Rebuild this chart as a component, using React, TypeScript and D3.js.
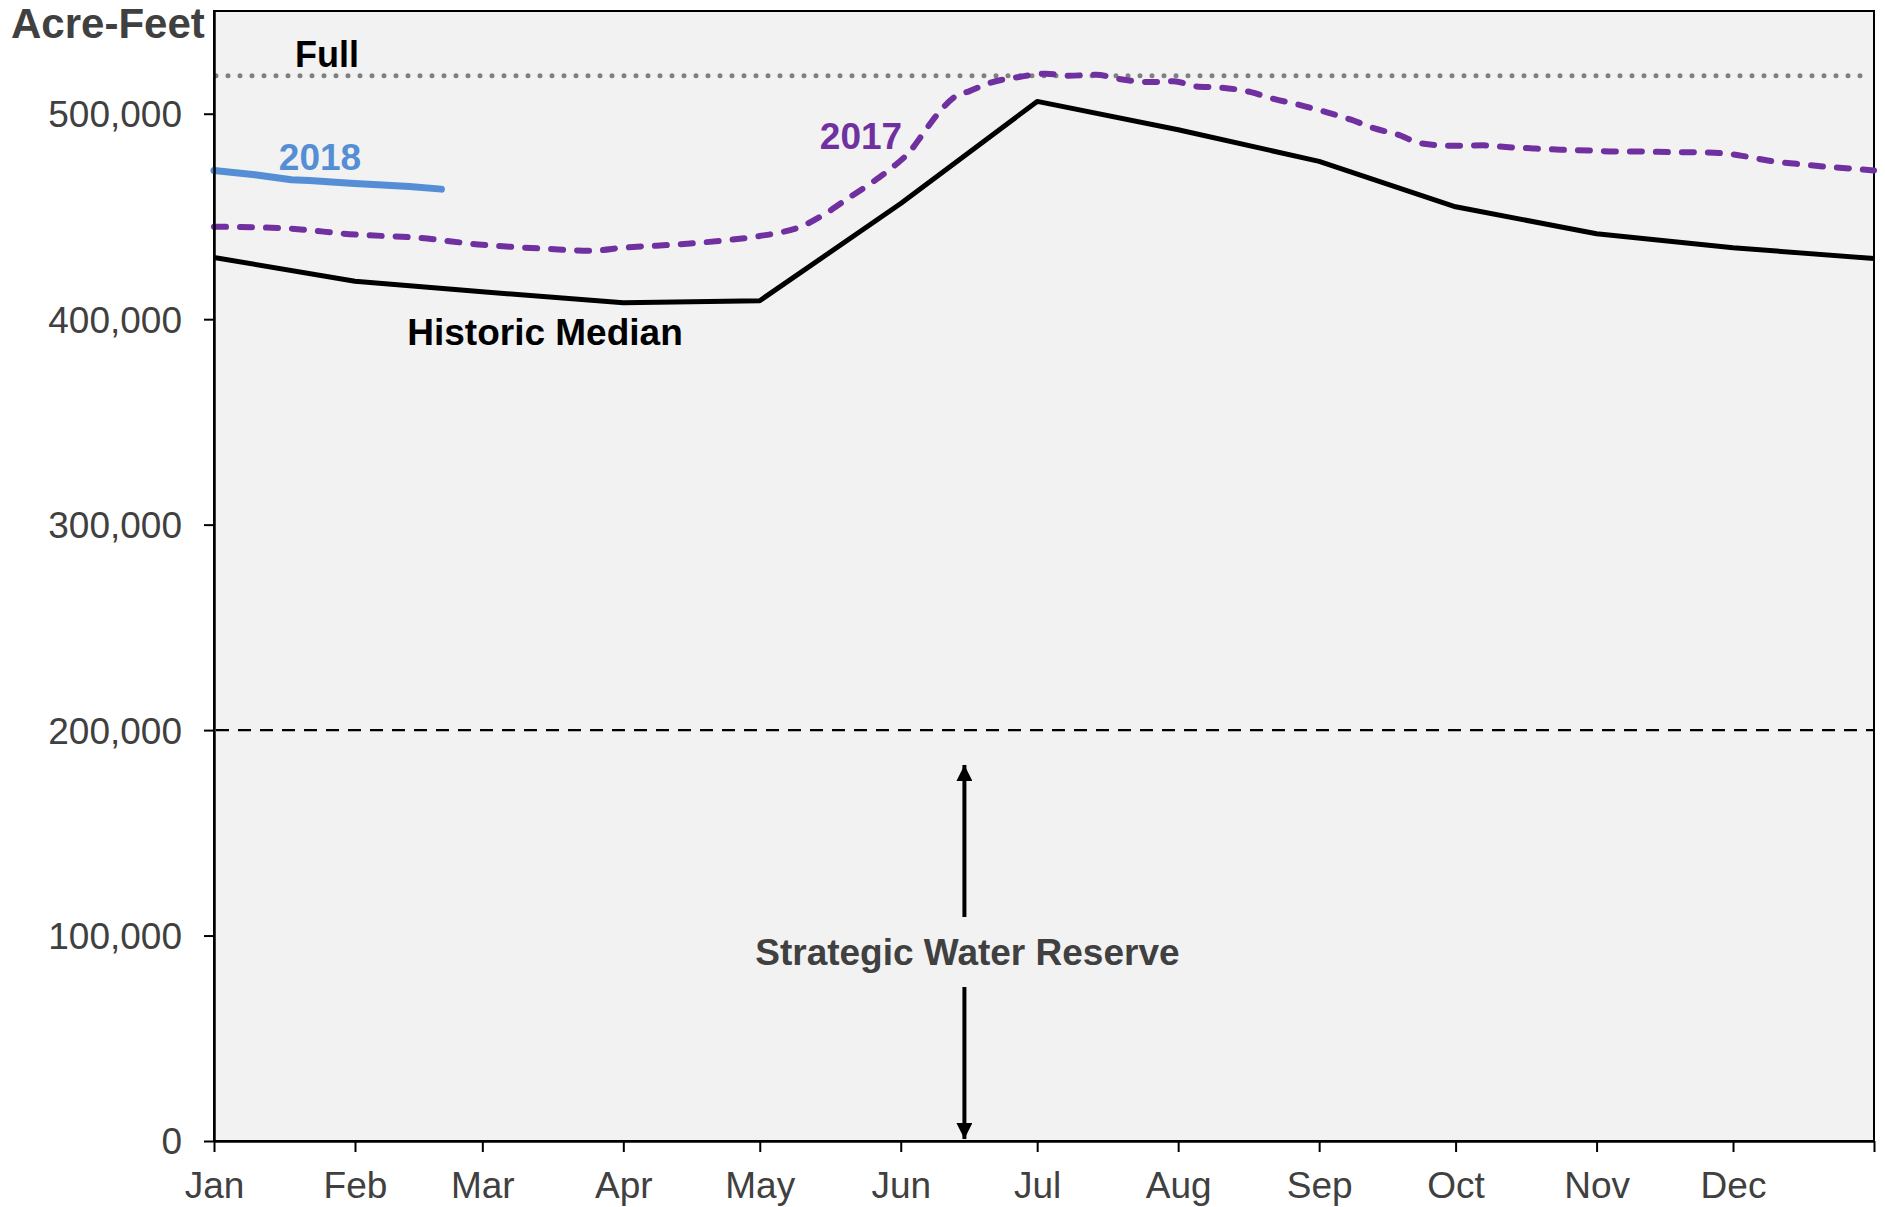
import React, { useEffect, useRef } from 'react';
import * as d3 from 'd3';

// month labels on the x axis
const monthLabels = ['Jan', 'Feb', 'Mar', 'Apr', 'May', 'Jun', 'Jul', 'Aug', 'Sep', 'Oct', 'Nov', 'Dec'];
const yTicks = [0, 100000, 200000, 300000, 400000, 500000];

const fullLevel = 518500;
const reserveLevel = 200000;

// historic median, first of each month
const medianDates = [
  '2017-01-01', '2017-02-01', '2017-03-01', '2017-04-01', '2017-05-01', '2017-06-01', '2017-07-01',
  '2017-08-01', '2017-09-01', '2017-10-01', '2017-11-01', '2017-12-01', '2018-01-01',
];
const medianValues = [
  430000, 418500, 413300, 408000, 409000, 456300, 506000, 492200, 476800, 454700, 441600, 434800, 429500,
];

// 2017 storage
const dates2017 = [
  '2017-01-01', '2017-01-16', '2017-02-01', '2017-02-15', '2017-03-01', '2017-03-15', '2017-03-25',
  '2017-04-01', '2017-04-15', '2017-05-01', '2017-05-05', '2017-05-10', '2017-05-15', '2017-05-21',
  '2017-05-26', '2017-05-30', '2017-06-03', '2017-06-06', '2017-06-09', '2017-06-13', '2017-06-16',
  '2017-06-21', '2017-06-27', '2017-07-03', '2017-07-08', '2017-07-14', '2017-07-19', '2017-07-26',
  '2017-07-31', '2017-08-05', '2017-08-10', '2017-08-17', '2017-08-22', '2017-08-27', '2017-09-02',
  '2017-09-08', '2017-09-13', '2017-09-19', '2017-09-23', '2017-09-30', '2017-10-07', '2017-10-12',
  '2017-10-18', '2017-10-24', '2017-10-31', '2017-11-05', '2017-11-11', '2017-11-17', '2017-11-23',
  '2017-11-28', '2017-12-03', '2017-12-09', '2017-12-15', '2017-12-21', '2017-12-27', '2018-01-01',
];
const values2017 = [
  445000, 444300, 441200, 439600, 436200, 434300, 433300, 434800, 436700, 440500, 442000, 445000,
  450800, 459700, 467000, 473600, 481600, 490600, 499500, 508400, 510900, 515300, 517900, 519500,
  518500, 519000, 516900, 515400, 515800, 513300, 512800, 510500, 507200, 504700, 501100, 497100,
  493000, 489300, 485700, 484400, 484600, 483800, 483100, 482500, 482100, 481600, 481600, 481300,
  481200, 480900, 479500, 477100, 475600, 474300, 473300, 472400,
];

// 2018 storage so far
const dates2018 = ['2018-01-01', '2018-01-10', '2018-01-18', '2018-01-22', '2018-01-31', '2018-02-06', '2018-02-13', '2018-02-20'];
const values2018 = [472400, 470300, 467900, 467500, 466200, 465400, 464600, 463300];

const W = 1885;
const H = 1207;
const left = 214;
const right = 1874;
const top = 11;
const bottom = 1141;

const FONT = "'Liberation Sans', Arial, Helvetica, sans-serif";
const GREY_TEXT = '#404040';

const App = () => {
  const svgRef = useRef(null);

  useEffect(() => {
    const svg = d3.select(svgRef.current);
    svg.selectAll('*').remove();

    const parse = d3.timeParse('%Y-%m-%d');
    const start = parse('2017-01-01');
    const end = parse('2018-01-01');

    const x = d3.scaleTime().domain([start, end]).range([left, right]);
    const y = d3.scaleLinear().domain([0, 550000]).range([bottom, top]);

    const median = medianDates.map((d, i) => [parse(d), medianValues[i]]);
    const s2017 = dates2017.map((d, i) => [parse(d), values2017[i]]);
    // 2018 is drawn on the same Jan-Dec axis
    const s2018 = dates2018.map((d, i) => [d3.timeYear.offset(parse(d), -1), values2018[i]]);

    // plot background
    svg
      .append('rect')
      .attr('x', left)
      .attr('y', top)
      .attr('width', right - left)
      .attr('height', bottom - top)
      .attr('fill', '#f2f2f2')
      .attr('stroke', '#000')
      .attr('stroke-width', 2);

    // full line (dotted)
    svg
      .append('line')
      .attr('x1', left + 2)
      .attr('x2', right - 2)
      .attr('y1', y(fullLevel))
      .attr('y2', y(fullLevel))
      .attr('stroke', '#808080')
      .attr('stroke-width', 5)
      .attr('stroke-linecap', 'round')
      .attr('stroke-dasharray', '0 12');

    // strategic reserve line
    svg
      .append('line')
      .attr('x1', left + 2)
      .attr('x2', right)
      .attr('y1', y(reserveLevel))
      .attr('y2', y(reserveLevel))
      .attr('stroke', '#000')
      .attr('stroke-width', 2.3)
      .attr('stroke-dasharray', '13 9');

    const line = d3
      .line()
      .x((d: any) => x(d[0]))
      .y((d: any) => y(d[1]));

    svg
      .append('path')
      .datum(median)
      .attr('fill', 'none')
      .attr('stroke', '#000')
      .attr('stroke-width', 5)
      .attr('stroke-linejoin', 'round')
      .attr('d', line);

    svg
      .append('path')
      .datum(s2017)
      .attr('fill', 'none')
      .attr('stroke', '#7030a0')
      .attr('stroke-width', 6)
      .attr('stroke-linecap', 'round')
      .attr('stroke-dasharray', '12 14')
      .attr('d', line.curve(d3.curveMonotoneX));

    svg
      .append('path')
      .datum(s2018)
      .attr('fill', 'none')
      .attr('stroke', '#558ed5')
      .attr('stroke-width', 7)
      .attr('stroke-linecap', 'round')
      .attr('stroke-linejoin', 'round')
      .attr('d', d3.line().x((d: any) => x(d[0])).y((d: any) => y(d[1])));

    // axes
    const yAxis = svg
      .append('g')
      .attr('transform', `translate(${left},0)`)
      .call(
        d3
          .axisLeft(y)
          .tickValues(yTicks)
          .tickSize(10)
          .tickSizeOuter(0)
          .tickPadding(22)
          .tickFormat(d3.format(','))
      );

    const monthTicks = d3.timeMonth.range(start, d3.timeDay.offset(end, 1));
    const xAxis = svg
      .append('g')
      .attr('transform', `translate(0,${bottom})`)
      .call(
        d3
          .axisBottom(x)
          .tickValues(monthTicks)
          .tickSize(11)
          .tickSizeOuter(0)
          .tickPadding(20)
          .tickFormat((d: any, i: number) => monthLabels[i] || '')
      );

    [yAxis, xAxis].forEach((g) => {
      g.select('.domain').attr('stroke', '#000').attr('stroke-width', 2.5);
      g.selectAll('.tick line').attr('stroke', '#000').attr('stroke-width', 2);
      g.selectAll('.tick text')
        .attr('fill', GREY_TEXT)
        .style('font-family', FONT)
        .style('font-size', '37px');
    });
    yAxis.selectAll('.tick text').attr('dy', '0.35em');

    // arrows for strategic reserve
    const defs = svg.append('defs');
    defs
      .append('marker')
      .attr('id', 'arrowHead')
      .attr('markerUnits', 'userSpaceOnUse')
      .attr('viewBox', '0 0 16 16')
      .attr('refX', 16)
      .attr('refY', 8)
      .attr('markerWidth', 16)
      .attr('markerHeight', 16)
      .attr('orient', 'auto')
      .append('path')
      .attr('d', 'M0,0L16,8L0,16Z')
      .attr('fill', '#000');

    const ax = x(parse('2017-06-15'));
    svg
      .append('line')
      .attr('x1', ax)
      .attr('x2', ax)
      .attr('y1', 917)
      .attr('y2', y(reserveLevel) + 35)
      .attr('stroke', '#000')
      .attr('stroke-width', 4)
      .attr('marker-end', 'url(#arrowHead)');
    svg
      .append('line')
      .attr('x1', ax)
      .attr('x2', ax)
      .attr('y1', 987)
      .attr('y2', bottom - 2)
      .attr('stroke', '#000')
      .attr('stroke-width', 4)
      .attr('marker-end', 'url(#arrowHead)');

    const label = (txt: string, lx: number, ly: number, color: string, size = 37, anchor = 'middle') =>
      svg
        .append('text')
        .attr('x', lx)
        .attr('y', ly)
        .attr('text-anchor', anchor)
        .attr('fill', color)
        .style('font-family', FONT)
        .style('font-weight', 'bold')
        .style('font-size', `${size}px`)
        .text(txt);

    label('Acre-Feet', 11, 38, GREY_TEXT, 42, 'start');
    label('Full', 327, 67, '#000', 36);
    label('2018', 320, 170, '#558ed5');
    label('2017', 861, 149, '#7030a0');
    label('Historic Median', 545, 345, '#000');
    label('Strategic Water Reserve', ax + 3, 965, GREY_TEXT);
  }, []);

  return (
    <svg
      ref={svgRef}
      width={W}
      height={H}
      style={{ position: 'absolute', left: 0, top: 0, background: '#fff' }}
    />
  );
};

export default App;
